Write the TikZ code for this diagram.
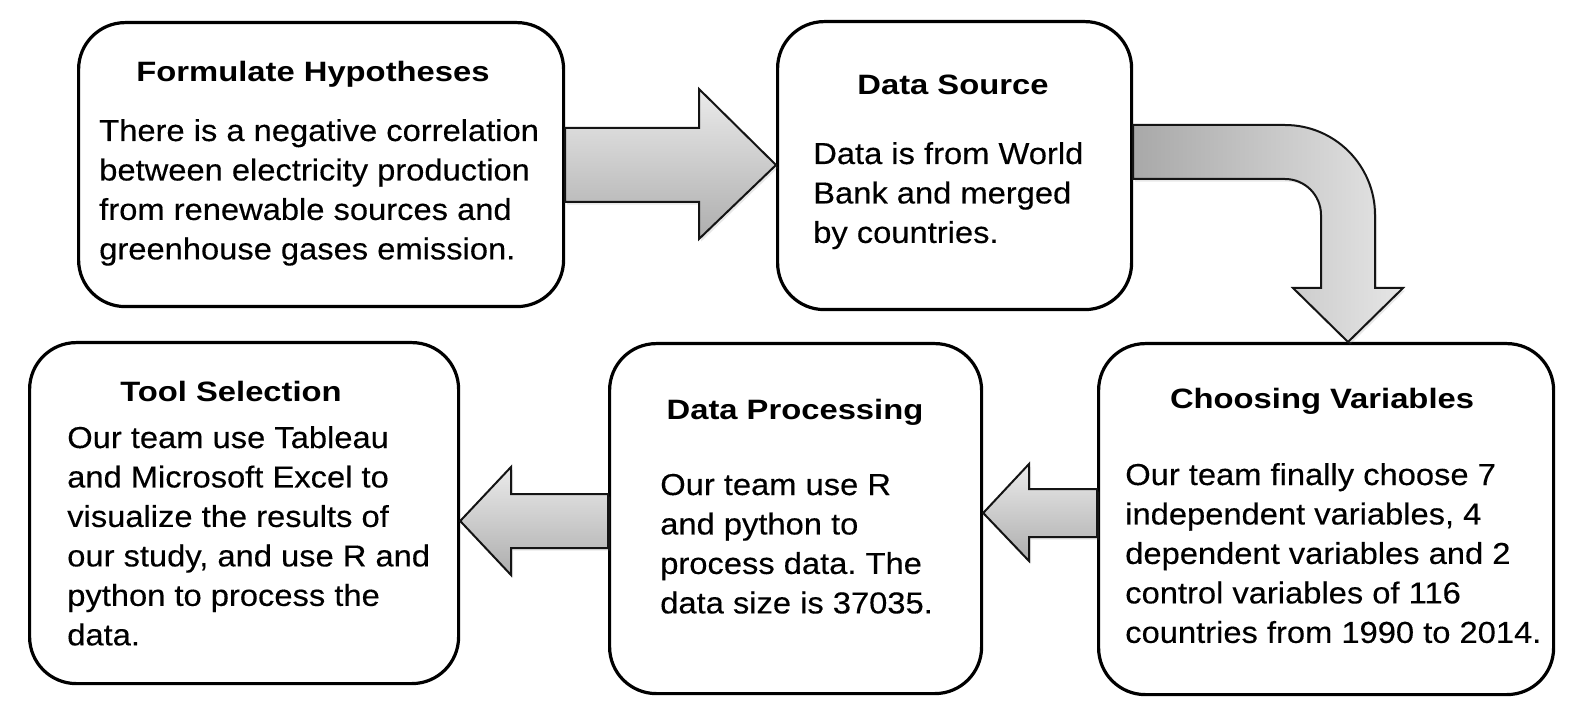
\documentclass[tikz,border=0pt]{standalone}
\usepackage{fontspec}
\setmainfont{Liberation Sans}
\newfontfamily\bodyfont[FakeStretch=1.08,FakeBold=0.3]{Liberation Sans}
\newfontfamily\headfont[FakeStretch=1.17]{Liberation Sans}
\usetikzlibrary{shadows}
\definecolor{atop}{gray}{0.92}
\definecolor{abot}{gray}{0.68}
\definecolor{aleft}{gray}{0.66}
\definecolor{aright}{gray}{0.90}
\definecolor{aline}{gray}{0.08}
\frenchspacing
\begin{document}
\begin{tikzpicture}[x=0.75pt,y=-0.75pt,
  stepbox/.style={draw=black, line width=2.4pt, rounded corners=35pt, fill=white,
    inner sep=0pt, anchor=north west},
  headtext/.style={anchor=base, inner sep=0pt, font=\headfont\bfseries\fontsize{21pt}{25pt}\selectfont},
  bodytext/.style={anchor=base west, inner sep=0pt, font=\bodyfont\fontsize{22.7pt}{29.6pt}\selectfont},
  blockarrow/.style={draw=aline, line width=1.5pt, line join=miter,
    drop shadow={opacity=0.18, shadow xshift=1.5pt, shadow yshift=-2pt}},
  hshade/.style={top color=atop, bottom color=abot},
  vshade/.style={left color=aleft, right color=aright}]
\useasboundingbox (0,0) rectangle (1592,716);

% boxes
\node[stepbox, minimum width=363.75pt, minimum height=213pt] (b1) at (77,21) {};
\node[stepbox, minimum width=265.5pt, minimum height=216pt] (b2) at (776,20) {};
\node[stepbox, minimum width=341.25pt, minimum height=263.25pt] (b3) at (1097,342) {};
\node[stepbox, minimum width=279pt, minimum height=262.5pt] (b4) at (608,342) {};
\node[stepbox, minimum width=321.75pt, minimum height=255.75pt] (b5) at (28,341) {};

% arrows
\draw[blockarrow, hshade] (b1.east |- 0,128) -- (699,128) -- (699,89)
  -- (b2.west |- 0,165) -- (699,239) -- (699,202) -- (b1.east |- 0,202) -- cycle;

\draw[blockarrow, vshade] (b2.east |- 0,125) -- (1285,125)
  .. controls (1334.7,125) and (1375,165.3) .. (1375,215)
  -- (1375,288) -- (1403,288) -- (1348,0 |- b3.north) -- (1293,288) -- (1321,288)
  -- (1321,215) .. controls (1321,195.1) and (1304.9,179) .. (1285,179)
  -- (b2.east |- 0,179) -- cycle;

\draw[blockarrow, hshade] (b3.west |- 0,489) -- (1029,489) -- (1029,464)
  -- (b4.east |- 0,513) -- (1029,561) -- (1029,537) -- (b3.west |- 0,537) -- cycle;

\draw[blockarrow, hshade] (b4.west |- 0,494) -- (511,494) -- (511,467)
  -- (b5.east |- 0,521) -- (511,575) -- (511,548) -- (b4.west |- 0,548) -- cycle;

% titles
\node[headtext] (t1) at (313,82) {Formulate Hypotheses};
\node[headtext] (t2) at (953,95) {Data Source};
\node[headtext] (t3) at (1322,408) {Choosing Variables};
\node[headtext] (t4) at (795,420) {Data Processing};
\node[headtext] (t5) at (231,402) {Tool Selection};

% body texts
\node[bodytext] (d1) at (99,141) {\parbox[t]{440pt}{There is a negative correlation\\between electricity production\\from renewable sources and\\greenhouse gases emission.}};
\node[bodytext] (d2) at (813,164) {\parbox[t]{300pt}{Data is from World\\Bank and merged\\by countries.}};
\node[bodytext] (d3) at (1125,485) {\parbox[t]{400pt}{Our team finally choose 7\\independent variables, 4\\dependent variables and 2\\control variables of 116\\countries from 1990 to 2014.}};
\node[bodytext] (d4) at (660,495) {\parbox[t]{300pt}{Our team use R\\and python to\\process data. The\\data size is 37035.}};
\node[bodytext] (d5) at (67,448) {\parbox[t]{400pt}{Our team use Tableau\\and Microsoft Excel to\\visualize the results of\\our study, and use R and\\python to process the\\data.}};
\end{tikzpicture}
\end{document}
